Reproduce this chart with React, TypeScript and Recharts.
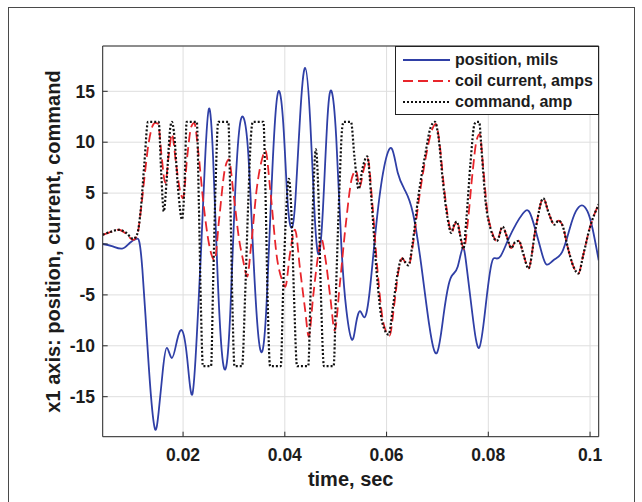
import React from 'react';
import { LineChart, Line, XAxis, YAxis, CartesianGrid, Legend } from 'recharts';

const xTicks = [0.02, 0.04, 0.06, 0.08, 0.1];
const yTicks = [-15, -10, -5, 0, 5, 10, 15];
const xDomain = [0.0042, 0.1017];
const yDomain = [-18.93, 19.45];

const seriesNames = ['position, mils', 'coil current, amps', 'command, amp'];

const position: [number, number][] = [
  [0.0042, 0], [0.006, -0.2], [0.008, -0.45], [0.0095, 0.1], [0.0108, 0.5], [0.0114, 0.2],
  [0.012, -2.5], [0.0129, -9.3], [0.0137, -15], [0.0145, -18.2], [0.0152, -16.5], [0.016, -12.5],
  [0.0168, -10.2], [0.0178, -11.2], [0.0188, -9.5], [0.0198, -8.5], [0.0208, -11.2], [0.0218, -14.8],
  [0.0227, -9], [0.0235, -1], [0.0243, 8], [0.0251, 13.3], [0.0259, 8.5], [0.0267, -2],
  [0.0276, -10.5], [0.0285, -12], [0.0293, -6.5], [0.0301, 3.5], [0.031, 11], [0.0319, 12.4],
  [0.0328, 9], [0.0337, 0], [0.0347, -8.5], [0.0356, -10.5], [0.0364, -6], [0.0373, 4.5],
  [0.0382, 13], [0.039, 14.9], [0.0398, 11], [0.0406, 3.8], [0.0414, 1.6], [0.0421, 4.5],
  [0.043, 12.5], [0.044, 17.3], [0.045, 12], [0.0459, 2.5], [0.0467, -1], [0.0475, 3.5],
  [0.0484, 12.5], [0.0492, 15], [0.0501, 10.5], [0.0511, 0], [0.0521, -6.5], [0.0532, -9.4],
  [0.054, -7.8], [0.0548, -6.6], [0.0556, -7.2], [0.0566, -5], [0.058, 2], [0.0595, 7.5],
  [0.061, 9.4], [0.0622, 7], [0.0637, 5.2], [0.0652, 3], [0.0668, -2], [0.0684, -8],
  [0.0699, -10.7], [0.0712, -7], [0.0722, -4], [0.073, -3], [0.074, -2.2], [0.075, -0.4],
  [0.0758, -2.5], [0.0769, -7], [0.0782, -10.2], [0.0795, -6], [0.0806, -2], [0.0814, -1.4],
  [0.0824, -1.2], [0.0838, 0.3], [0.0855, 2], [0.0868, 3], [0.088, 3.2], [0.0892, 1.5],
  [0.0903, -0.5], [0.0914, -2], [0.0928, -1.6], [0.0945, -0.8], [0.096, 1.5], [0.0972, 3.2],
  [0.0984, 3.8], [0.0995, 3.2], [0.1005, 1.5], [0.1017, -1.6],
];

const current: [number, number][] = [
  [0.0042, 0.9], [0.0058, 1.2], [0.0074, 1.4], [0.0088, 1.0], [0.0102, 0.4], [0.011, 0.9],
  [0.0117, 3.3], [0.0124, 6.5], [0.0132, 9.8], [0.014, 11.6], [0.0145, 11.9], [0.0151, 11.8],
  [0.0158, 8.5], [0.0165, 6.0], [0.0172, 8.8], [0.0178, 10.8], [0.0186, 8], [0.0193, 5.5],
  [0.02, 4.5], [0.0208, 8.5], [0.0216, 11.5], [0.0222, 11.9], [0.023, 9], [0.024, 4],
  [0.0251, 0], [0.0262, -1.6], [0.0271, 2.5], [0.0282, 7.3], [0.029, 8.3], [0.0299, 5],
  [0.031, 0.5], [0.0318, -1.6], [0.0326, -3.2], [0.0334, 0], [0.0345, 5.5], [0.0355, 8.3],
  [0.0362, 9.2], [0.0371, 5.5], [0.0385, -1.5], [0.0395, -3.6], [0.0401, -4.2], [0.041, -1],
  [0.042, 1.4], [0.043, -2.5], [0.044, -6.5], [0.0447, -9.1], [0.0456, -5], [0.0465, -1.3],
  [0.0472, 0.5], [0.048, -1.5], [0.049, -5.5], [0.0498, -8.5], [0.0508, -4], [0.052, 2],
  [0.0532, 6.5], [0.054, 7.2], [0.0547, 5.6], [0.0555, 7.3], [0.0563, 8.4], [0.0572, 4],
  [0.0582, -2.5], [0.0594, -7.8], [0.0606, -9.0], [0.0615, -6], [0.0623, -2.8], [0.0631, -1.4],
  [0.0638, -1.9], [0.0644, -2.0], [0.0652, 0], [0.0664, 4.5], [0.0677, 8.5], [0.069, 11.3],
  [0.0697, 11.8], [0.0704, 10], [0.0712, 6], [0.0721, 2.5], [0.0728, 1.1], [0.0733, 1.8],
  [0.0739, 2.2], [0.0745, 0.8], [0.0752, -0.5], [0.076, 2.3], [0.0769, 7], [0.0777, 10.2],
  [0.0783, 10.8], [0.079, 7.5], [0.0798, 3.2], [0.0806, 1.4], [0.0817, 0.3], [0.0828, 1.7],
  [0.0836, 0.8], [0.0845, -0.4], [0.0853, 0.2], [0.086, 0.3], [0.0869, -1], [0.0879, -2.4],
  [0.0893, 1.5], [0.0908, 4.5], [0.0919, 3], [0.093, 1.9], [0.0938, 2.3], [0.0946, 1.8],
  [0.0957, -0.5], [0.0968, -2.3], [0.0977, -2.9], [0.0987, -1], [0.0999, 1.5], [0.1017, 3.9],
];

const command: [number, number][] = [
  [0.0042, 0.9], [0.0058, 1.2], [0.0074, 1.4], [0.0088, 1.1], [0.0102, 0.5], [0.011, 1.0],
  [0.0117, 3.5], [0.0124, 8], [0.0131, 12], [0.0152, 12], [0.0157, 7], [0.0162, 3.2],
  [0.0168, 6.5], [0.0175, 11.5], [0.0178, 12], [0.0182, 11], [0.019, 5.5], [0.0198, 2.4],
  [0.0203, 6], [0.0207, 12], [0.0227, 12], [0.0231, 4], [0.0235, -6], [0.0239, -12],
  [0.0255, -12], [0.0259, -4], [0.0264, 6], [0.0269, 12], [0.0289, 12], [0.0293, 4],
  [0.0297, -6], [0.0301, -12], [0.0316, -12], [0.0322, -5], [0.0328, 4], [0.0334, 11],
  [0.0337, 12], [0.0358, 12], [0.0362, 5], [0.0366, -5], [0.0371, -12], [0.0392, -12],
  [0.0397, -4], [0.0403, 3.5], [0.0408, 6.4], [0.0413, 3], [0.0418, -5], [0.0424, -12],
  [0.0446, -12], [0.0451, -4], [0.0456, 5], [0.0461, 9.3], [0.0466, 5], [0.0471, -5],
  [0.0477, -12], [0.0496, -12], [0.0501, -4], [0.0507, 5], [0.0513, 11.5], [0.0516, 12],
  [0.053, 12], [0.0537, 8.5], [0.0545, 5.4], [0.0553, 7.5], [0.0562, 8.6], [0.057, 4.5],
  [0.058, -2.5], [0.0592, -7.8], [0.0604, -8.9], [0.0613, -6], [0.0622, -2.8], [0.063, -1.4],
  [0.0637, -1.8], [0.0643, -2.1], [0.0651, 0], [0.0662, 4.5], [0.0675, 8.5], [0.0687, 11.5],
  [0.0695, 12], [0.0702, 10.5], [0.0711, 6], [0.072, 2.5], [0.0727, 1.1], [0.0732, 1.8],
  [0.0738, 2.2], [0.0744, 1], [0.0751, -0.5], [0.0757, 2.5], [0.0765, 8], [0.0773, 11.8],
  [0.0777, 12], [0.0782, 12], [0.0787, 9], [0.0795, 4], [0.0805, 1.4], [0.0817, 0.3],
  [0.0828, 1.7], [0.0836, 0.8], [0.0845, -0.4], [0.0853, 0.2], [0.086, 0.3], [0.0869, -1],
  [0.0879, -2.4], [0.0893, 1.5], [0.0908, 4.5], [0.0919, 3], [0.093, 1.9], [0.0938, 2.3],
  [0.0946, 1.8], [0.0957, -0.5], [0.0968, -2.3], [0.0977, -2.9], [0.0987, -1], [0.0999, 1.5],
  [0.1017, 3.9],
];

const toRows = (pts: [number, number][]) => pts.map(([t, v]) => ({ t, v }));

const FONT = '"Liberation Sans", Arial, Helvetica, sans-serif';
const BLUE = '#2f3fa6';
const RED = '#e8252b';
const BLACK = '#111111';
const AXIS = '#2a2a2a';
const TEXT = '#1c1c1c';

const legendItems = [
  { label: seriesNames[0], color: BLUE, dash: undefined as string | undefined, w: 1.8 },
  { label: seriesNames[1], color: RED, dash: '10 5', w: 1.8 },
  { label: seriesNames[2], color: BLACK, dash: '2 2', w: 2.2 },
];

function LegendBox() {
  return (
    <div
      style={{
        width: 204,
        height: 69,
        border: '1px solid #222',
        background: '#fff',
        boxSizing: 'border-box',
        paddingTop: 3,
        fontFamily: FONT,
        fontWeight: 700,
        fontSize: 16,
        color: TEXT,
      }}
    >
      {legendItems.map((it) => (
        <div key={it.label} style={{ display: 'flex', alignItems: 'center', height: 20.7 }}>
          <svg width={47} height={10} style={{ marginLeft: 7, marginRight: 5, display: 'block' }}>
            <line x1={0} y1={5} x2={47} y2={5} stroke={it.color} strokeWidth={it.w} strokeDasharray={it.dash} />
          </svg>
          <span style={{ lineHeight: '20px', whiteSpace: 'nowrap' }}>{it.label}</span>
        </div>
      ))}
    </div>
  );
}

const tickStyle = { fill: TEXT, fontSize: 17.5, fontWeight: 700, fontFamily: FONT };

export default function App() {
  return (
    <div style={{ position: 'absolute', left: 0, top: 0, width: 642, height: 502, background: '#fff', overflow: 'hidden' }}>
      <div
        style={{
          position: 'absolute',
          left: 8,
          top: 7,
          width: 627,
          height: 540,
          border: '1px solid #4a4a4a',
          boxSizing: 'border-box',
        }}
      />
      <div style={{ position: 'absolute', left: 0, top: 0 }}>
        <LineChart width={642} height={502} margin={{ top: 36, right: 33.3, bottom: 35.3, left: 42.7 }}>
          <CartesianGrid stroke="#dedede" strokeWidth={1} />
          <XAxis
            dataKey="t"
            type="number"
            domain={xDomain}
            allowDataOverflow
            ticks={xTicks}
            tickFormatter={(v: number) => String(v)}
            height={30}
            tickSize={-5}
            tickMargin={17}
            tick={tickStyle}
            stroke={AXIS}
            axisLine={{ stroke: AXIS }}
            tickLine={{ stroke: AXIS }}
            label={{
              content: () => (
                <text x={350.7} y={486} textAnchor="middle" fill={TEXT} fontSize={20} fontWeight={700} fontFamily={FONT}>
                  time, sec
                </text>
              ),
            }}
          />
          <XAxis
            xAxisId="top"
            orientation="top"
            dataKey="t"
            type="number"
            domain={xDomain}
            allowDataOverflow
            ticks={xTicks}
            height={10}
            tickSize={-5}
            tick={false}
            axisLine={{ stroke: AXIS }}
            tickLine={{ stroke: AXIS }}
          />
          <YAxis
            type="number"
            domain={yDomain}
            allowDataOverflow
            ticks={yTicks}
            width={60}
            tickSize={-5}
            tickMargin={12.7}
            tick={tickStyle}
            axisLine={{ stroke: AXIS }}
            tickLine={{ stroke: AXIS }}
            label={{
              content: () => (
                <text
                  x={59.5}
                  y={241.5}
                  transform="rotate(-90 59.5 241.5)"
                  textAnchor="middle"
                  fill={TEXT}
                  fontSize={20}
                  fontWeight={700}
                  fontFamily={FONT}
                >
                  x1 axis: position, current, command
                </text>
              ),
            }}
          />
          <YAxis
            yAxisId="right"
            orientation="right"
            type="number"
            domain={yDomain}
            allowDataOverflow
            ticks={yTicks}
            width={10}
            tickSize={-5}
            tick={false}
            axisLine={{ stroke: AXIS }}
            tickLine={{ stroke: AXIS }}
          />
          <Legend
            layout="vertical"
            align="center"
            verticalAlign="middle"
            wrapperStyle={{ position: 'absolute', left: 395, top: 46, width: 204, height: 69 }}
            content={() => <LegendBox />}
          />
          <Line
            data={toRows(position)}
            dataKey="v"
            name={seriesNames[0]}
            type="natural"
            stroke={BLUE}
            strokeWidth={1.8}
            dot={false}
            activeDot={false}
            isAnimationActive={false}
          />
          <Line
            data={toRows(current)}
            dataKey="v"
            name={seriesNames[1]}
            type="monotone"
            stroke={RED}
            strokeWidth={1.8}
            strokeDasharray="10 5"
            dot={false}
            activeDot={false}
            isAnimationActive={false}
          />
          <Line
            data={toRows(command)}
            dataKey="v"
            name={seriesNames[2]}
            type="monotone"
            stroke={BLACK}
            strokeWidth={2.2}
            strokeDasharray="2 2"
            dot={false}
            activeDot={false}
            isAnimationActive={false}
          />
        </LineChart>
      </div>
    </div>
  );
}
